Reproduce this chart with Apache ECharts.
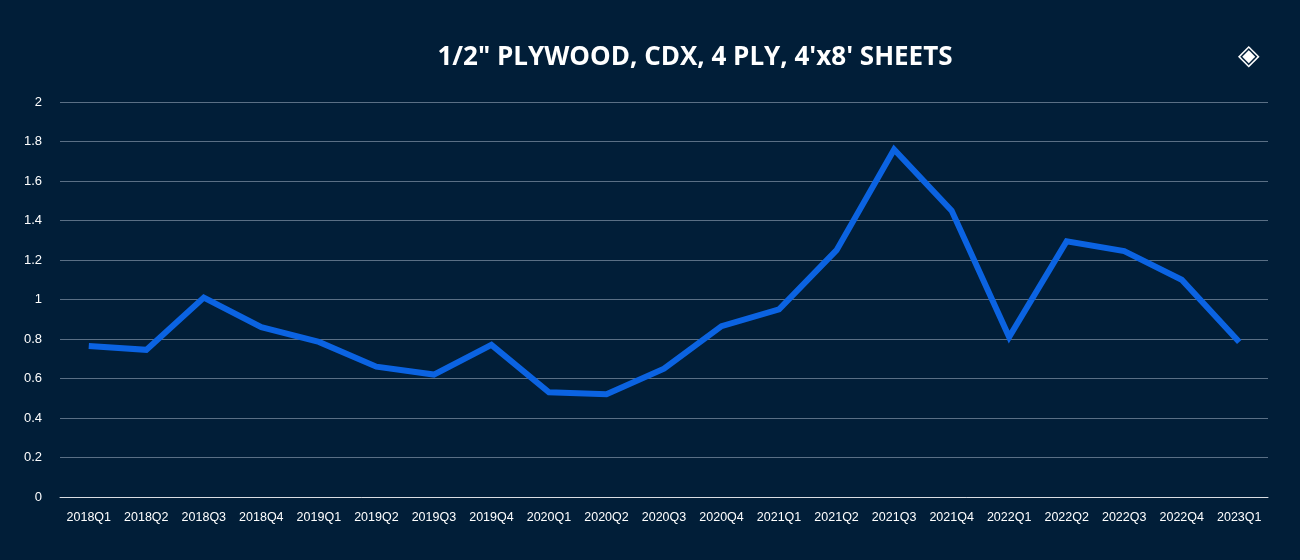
<!DOCTYPE html>
<html><head><meta charset="utf-8">
<script src="https://cdn.jsdelivr.net/npm/echarts@6/dist/echarts.min.js"></script>
<style>html,body{margin:0;padding:0;background:#011e38}#c{width:1300px;height:560px}</style>
</head><body><div id="c"></div>
<script>
const categories = ["2018Q1","2018Q2","2018Q3","2018Q4","2019Q1","2019Q2","2019Q3","2019Q4","2020Q1","2020Q2","2020Q3","2020Q4","2021Q1","2021Q2","2021Q3","2021Q4","2022Q1","2022Q2","2022Q3","2022Q4","2023Q1"];
const prices = [0.765,0.745,1.01,0.86,0.785,0.66,0.62,0.77,0.53,0.52,0.65,0.865,0.95,1.25,1.76,1.45,0.81,1.295,1.245,1.10,0.785];
const chart = echarts.init(document.getElementById('c'));
chart.setOption({
  backgroundColor:'#011e38',
  title:{text:"1/2\" PLYWOOD, CDX, 4 PLY, 4'x8' SHEETS",left:690,top:40,textAlign:'center',
    textStyle:{color:'#fff',fontSize:26,fontWeight:'bold',fontFamily:'Open Sans'}},
  grid:{left:60,right:32,top:102,bottom:63},
  xAxis:{type:'category',data:categories,boundaryGap:true,
    axisLine:{lineStyle:{color:'#d9dde2'}},axisTick:{show:false},
    axisLabel:{color:'#fff',fontSize:12.5,margin:14,interval:0,fontFamily:'Liberation Sans'}},
  yAxis:{type:'value',min:0,max:2,interval:0.2,
    axisLine:{show:false},axisTick:{show:false},
    splitLine:{lineStyle:{color:'#5a6f85',width:1}},
    axisLabel:{color:'#fff',fontSize:13,margin:18,fontFamily:'Liberation Sans',formatter:v=>String(+v.toFixed(1))}},
  series:[{type:'line',data:prices,symbol:'none',lineStyle:{color:'#0b63e2',width:6,join:'miter'}}],
  graphic:[{type:'text',left:1238,top:42,style:{text:'◈',fill:'#fff',fontSize:28}}]
});
</script></body></html>
